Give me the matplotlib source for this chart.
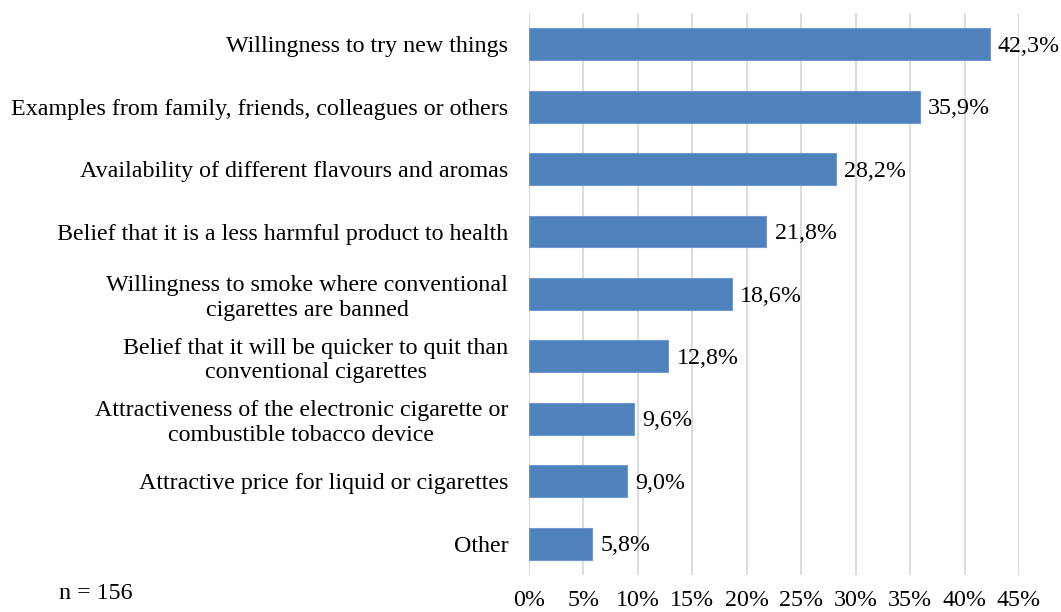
import matplotlib.pyplot as plt
import matplotlib.ticker as mticker

plt.rcParams['font.family'] = ['Liberation Serif', 'DejaVu Serif']

categories = [
    "Willingness to try new things",
    "Examples from family, friends, colleagues or others",
    "Availability of different flavours and aromas",
    "Belief that it is a less harmful product to health",
    "Willingness to smoke where conventional\ncigarettes are banned",
    "Belief that it will be quicker to quit than\nconventional cigarettes",
    "Attractiveness of the electronic cigarette or\ncombustible tobacco device",
    "Attractive price for liquid or cigarettes",
    "Other",
]
values = [42.3, 35.9, 28.2, 21.8, 18.6, 12.8, 9.6, 9.0, 5.8]
xticks = [0, 5, 10, 15, 20, 25, 30, 35, 40, 45]

fs = 17.3

fig = plt.figure(figsize=(10.61, 6.12), dpi=100)
ax = fig.add_axes([0.4986, 0.0605, 0.4618, 0.9183])

y = list(range(len(categories)))[::-1]
ax.barh(y, values, height=0.51, color='#4f81bd', edgecolor='#6f9ad0', linewidth=0.8, zorder=3)

for yi, v in zip(y, values):
    ax.annotate("{:.1f}%".format(v).replace(".", ","), (v, yi), xytext=(6, -1.5),
                textcoords='offset points', va='center', ha='left', fontsize=fs)

ax.set_xlim(0, 45)
ax.set_ylim(-0.5, len(categories) - 0.5)
ax.set_xticks(xticks)
ax.xaxis.set_major_formatter(mticker.FuncFormatter(lambda v, p: "{:d}%".format(int(v))))
ax.set_yticks(y)
ax.set_yticklabels(categories, multialignment='center', linespacing=1.2)
ax.tick_params(axis='x', length=0, pad=10.5, labelsize=fs)
ax.tick_params(axis='y', length=0, pad=15, labelsize=fs)
ax.grid(axis='x', color='#d9d9d9', linewidth=1.3, zorder=0)
for s in ax.spines.values():
    s.set_visible(False)

fig.text(0.056, 0.031, "n = 156", fontsize=fs, va='center', ha='left')

fig.savefig("out.png", dpi=100)
